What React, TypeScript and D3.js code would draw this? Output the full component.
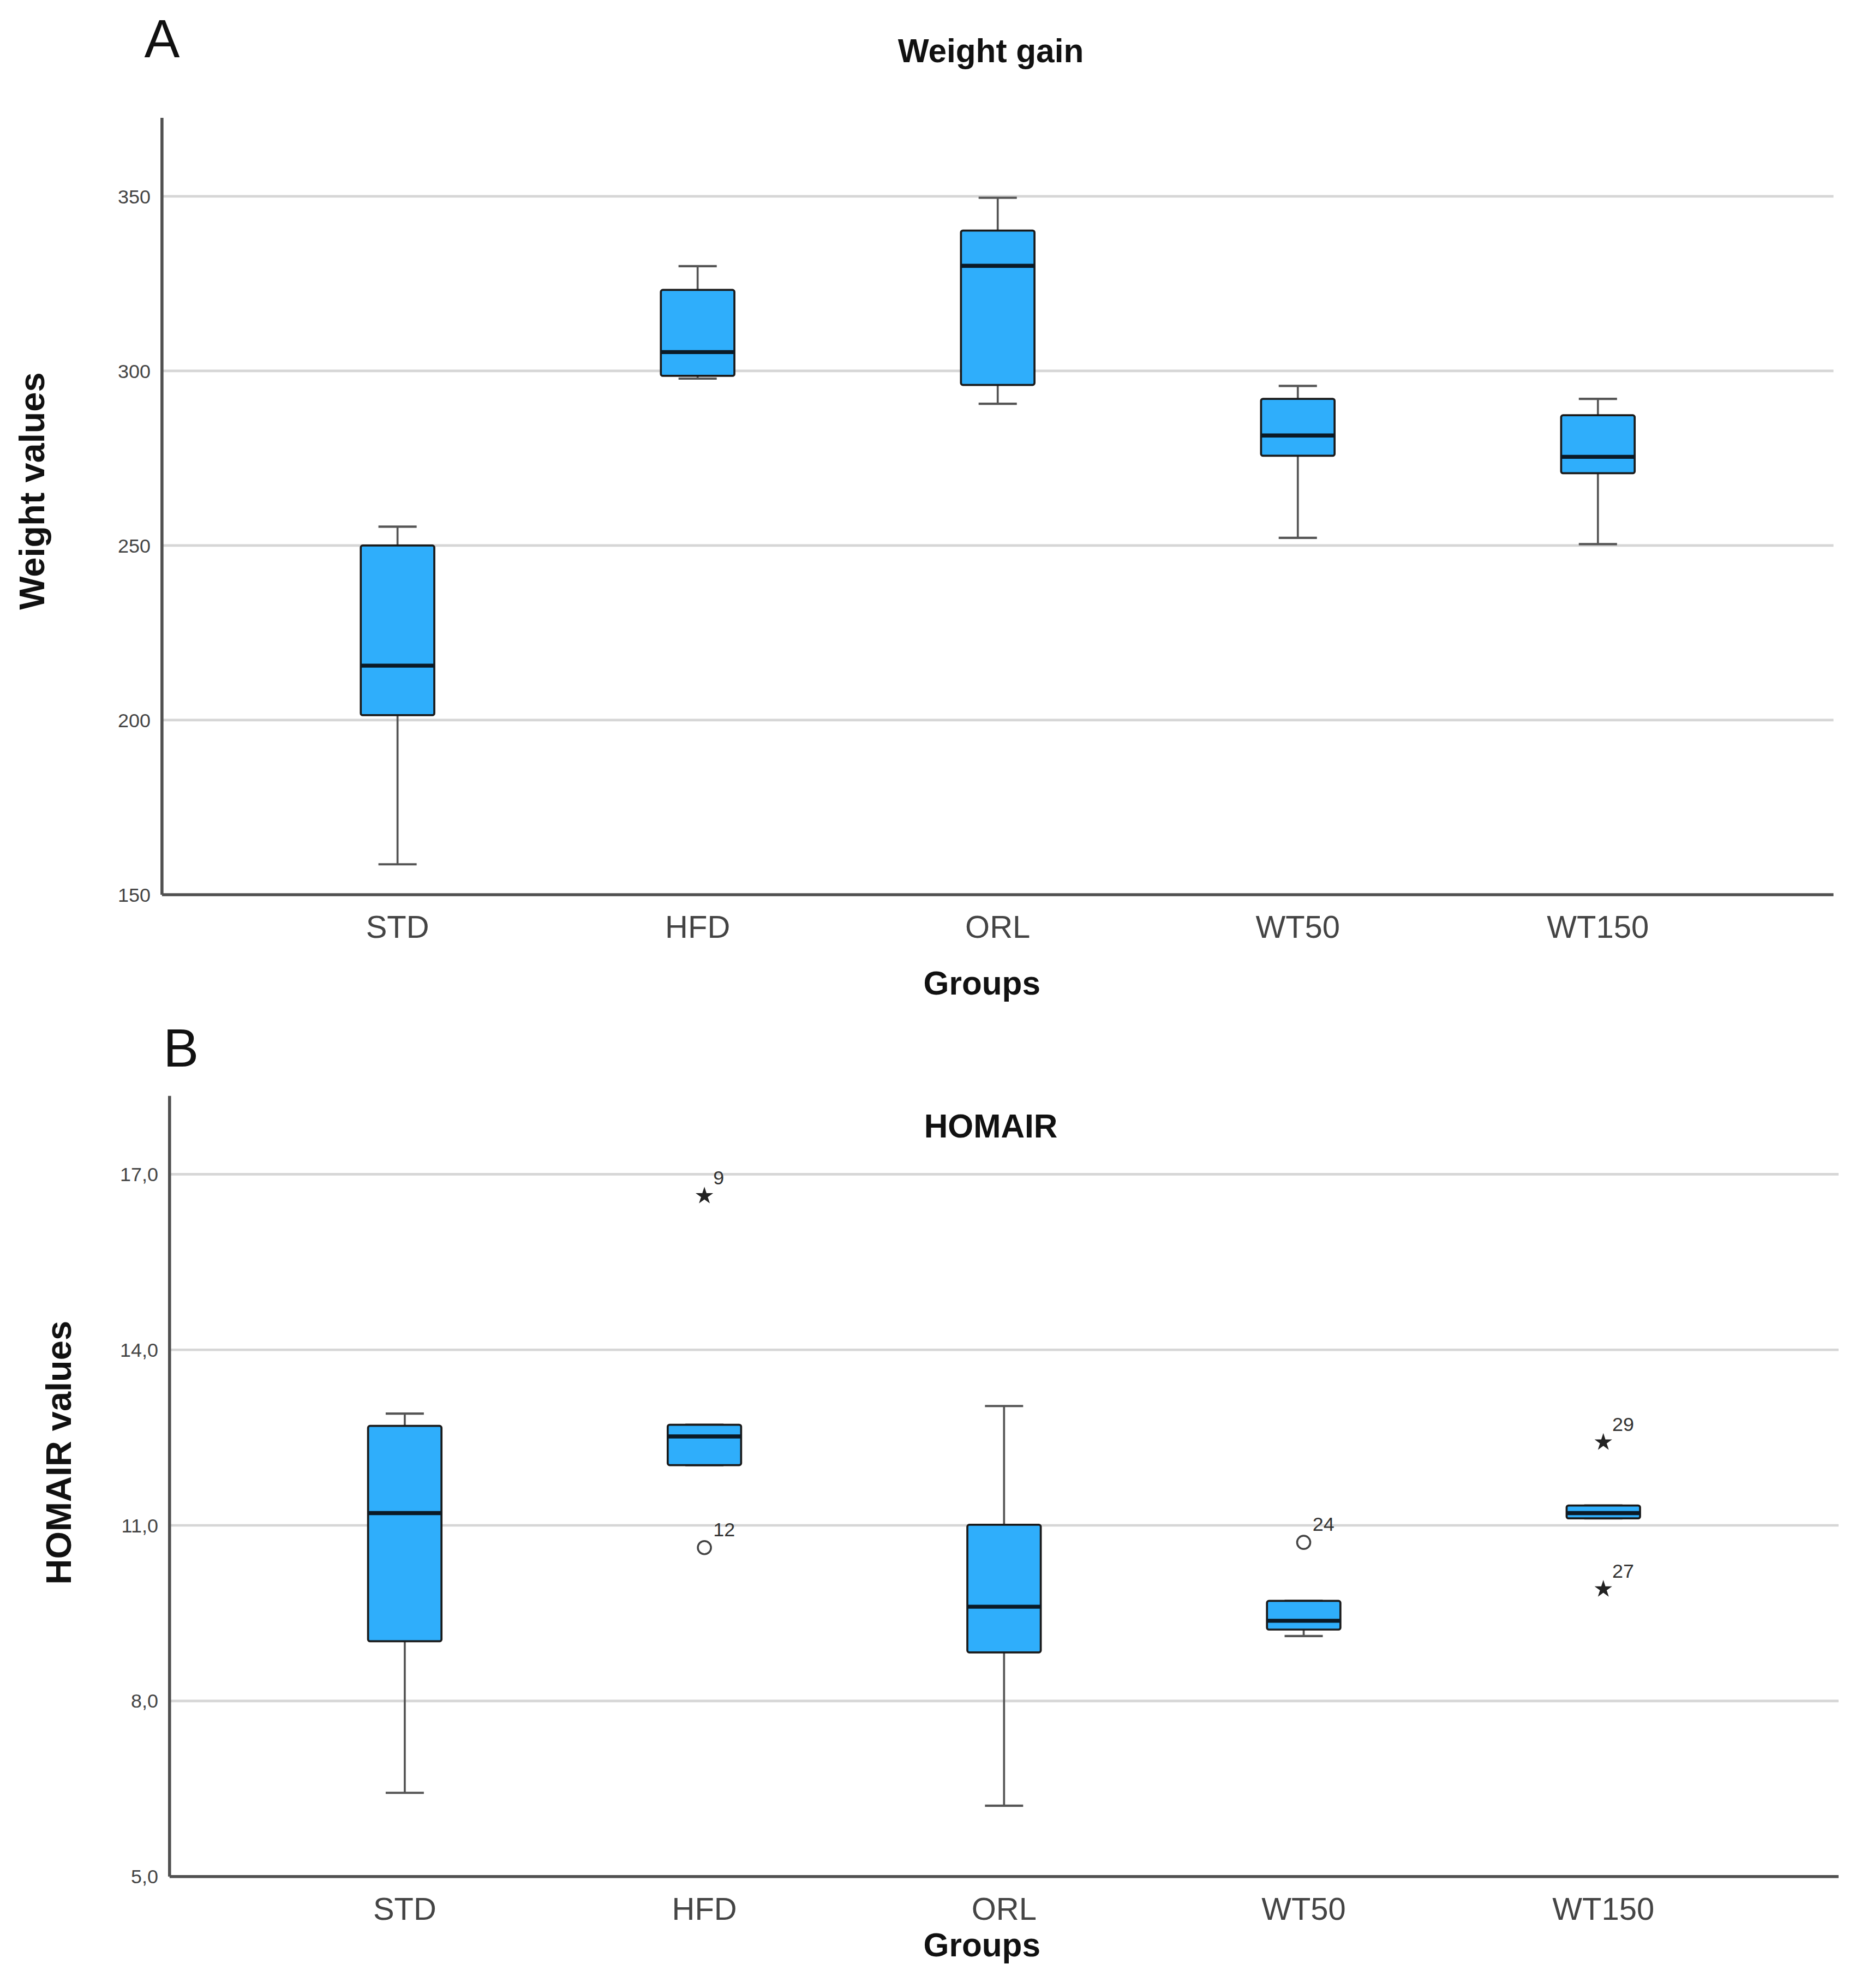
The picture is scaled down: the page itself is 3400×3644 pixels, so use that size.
import React from 'react';
import * as d3 from 'd3';

const groups = ['STD', 'HFD', 'ORL', 'WT50', 'WT150'];

// Panel A: weight gain (box stats per group)
const weightLow = [158.7, 297.8, 290.6, 252.2, 250.4];
const weightQ1 = [201.4, 298.6, 296.0, 275.7, 270.7];
const weightMed = [215.6, 305.4, 330.1, 281.5, 275.4];
const weightQ3 = [250.0, 323.2, 340.2, 292.0, 287.3];
const weightHigh = [255.4, 330.0, 349.6, 295.7, 292.0];
const weightTicks = [150, 200, 250, 300, 350];

// Panel B: HOMA-IR
const homaLow = [6.43, 12.03, 6.21, 9.11, 11.12];
const homaQ1 = [9.02, 12.03, 8.83, 9.22, 11.12];
const homaMed = [11.21, 12.52, 9.61, 9.37, 11.21];
const homaQ3 = [12.7, 12.72, 11.01, 9.71, 11.34];
const homaHigh = [12.91, 12.72, 13.04, 9.71, 11.34];
const homaTicks = [5, 8, 11, 14, 17];

// outliers: group, value, case label, kind ('o' = outlier, '*' = extreme)
const homaOutliers = [
  { group: 'HFD', value: 16.63, label: '9', kind: '*' },
  { group: 'HFD', value: 10.62, label: '12', kind: 'o' },
  { group: 'WT50', value: 10.71, label: '24', kind: 'o' },
  { group: 'WT150', value: 12.42, label: '29', kind: '*' },
  { group: 'WT150', value: 9.91, label: '27', kind: '*' },
];

const FONT = '"Liberation Sans", Arial, sans-serif';
const BOX_FILL = '#2faefb';

interface PanelProps {
  letter: string;
  letterX: number;
  letterY: number;
  title: string;
  titleY: number;
  yLabel: string;
  yLabelX: number;
  yLabelY: number;
  left: number;
  right: number;
  top: number;
  bottom: number;
  yMax: number;
  ticks: number[];
  tickFmt: (v: number) => string;
  low: number[];
  q1: number[];
  med: number[];
  q3: number[];
  high: number[];
  outliers?: { group: string; value: number; label: string; kind: string }[];
  groupsLabelY: number;
}

const Panel: React.FC<PanelProps> = (p) => {
  const x = d3.scalePoint<string>().domain(groups).range([p.left, p.right]).padding(0.785);
  const y = d3.scaleLinear().domain([p.ticks[0], p.yMax]).range([p.bottom, p.top]);
  const step = x.step();
  const bw = step * 0.245;
  const cw = bw * 0.52;
  const star = d3.symbol().type(d3.symbolStar).size(60)();

  return (
    <g>
      <text x={p.letterX} y={p.letterY} fontSize={42} fontFamily={FONT} textAnchor="middle" fill="#111">{p.letter}</text>
      <text x={783} y={p.titleY} fontSize={26} fontWeight="bold" fontFamily={FONT} textAnchor="middle" fill="#111">{p.title}</text>

      {/* grid */}
      {p.ticks.slice(1).map((t) => (
        <line key={t} x1={p.left} x2={p.right} y1={y(t)} y2={y(t)} stroke="#d6d6d6" strokeWidth={2} />
      ))}

      {/* tick labels */}
      {p.ticks.map((t) => (
        <text key={t} x={p.left - 9} y={y(t)} dy="0.35em" fontSize={15.5} fontFamily={FONT} textAnchor="end" fill="#444">{p.tickFmt(t)}</text>
      ))}

      {/* boxes */}
      {groups.map((g, i) => {
        const cx = x(g)!;
        return (
          <g key={g}>
            <line x1={cx} x2={cx} y1={y(p.high[i])} y2={y(p.q3[i])} stroke="#555" strokeWidth={1.6} />
            <line x1={cx} x2={cx} y1={y(p.q1[i])} y2={y(p.low[i])} stroke="#555" strokeWidth={1.6} />
            <line x1={cx - cw / 2} x2={cx + cw / 2} y1={y(p.high[i])} y2={y(p.high[i])} stroke="#555" strokeWidth={1.8} />
            <line x1={cx - cw / 2} x2={cx + cw / 2} y1={y(p.low[i])} y2={y(p.low[i])} stroke="#555" strokeWidth={1.8} />
            <rect x={cx - bw / 2} y={y(p.q3[i])} width={bw} height={y(p.q1[i]) - y(p.q3[i])} fill={BOX_FILL} stroke="#1a1a1a" strokeWidth={1.6} rx={1.5} />
            <line x1={cx - bw / 2} x2={cx + bw / 2} y1={y(p.med[i])} y2={y(p.med[i])} stroke="#0b1a26" strokeWidth={3.2} />
          </g>
        );
      })}

      {/* outliers */}
      {(p.outliers || []).map((o) => {
        const cx = x(o.group)!;
        const cy = y(o.value);
        return (
          <g key={o.label}>
            {o.kind === '*' ? (
              <path d={star!} transform={`translate(${cx},${cy})`} fill="#222" />
            ) : (
              <circle cx={cx} cy={cy} r={5.2} fill="none" stroke="#444" strokeWidth={1.5} />
            )}
            <text x={cx + 7} y={cy - 9} fontSize={15.5} fontFamily={FONT} fill="#333">{o.label}</text>
          </g>
        );
      })}

      {/* axes */}
      <line x1={p.left} x2={p.left} y1={p.top} y2={p.bottom} stroke="#505050" strokeWidth={2.4} />
      <line x1={p.left} x2={p.right} y1={p.bottom} y2={p.bottom} stroke="#505050" strokeWidth={2.4} />

      {groups.map((g) => (
        <text key={g} x={x(g)} y={p.bottom + 34} fontSize={25} fontFamily={FONT} textAnchor="middle" fill="#444">{g}</text>
      ))}
      <text x={776} y={p.groupsLabelY} fontSize={26} fontWeight="bold" fontFamily={FONT} textAnchor="middle" fill="#111">Groups</text>

      <text transform={`translate(${p.yLabelX},${p.yLabelY}) rotate(-90)`} fontSize={28} fontWeight="bold" fontFamily={FONT} textAnchor="middle" fill="#111">{p.yLabel}</text>
    </g>
  );
};

const App: React.FC = () => {
  const fmtComma = (v: number) => d3.format('.1f')(v).replace('.', ',');
  return (
    <svg
      width={3400}
      height={3644}
      viewBox="0 0 1466 1571"
      style={{ position: 'absolute', left: 0, top: 0, background: '#fff' }}
    >
      <rect x={0} y={0} width={1466} height={1571} fill="#fff" />
      <Panel
        letter="A" letterX={128} letterY={45}
        title="Weight gain" titleY={49}
        yLabel="Weight values" yLabelX={35} yLabelY={388}
        left={128} right={1449} top={93} bottom={707}
        yMax={372.5} ticks={weightTicks} tickFmt={(v) => String(v)}
        low={weightLow} q1={weightQ1} med={weightMed} q3={weightQ3} high={weightHigh}
        groupsLabelY={786}
      />
      <Panel
        letter="B" letterX={143} letterY={843}
        title="HOMAIR" titleY={899}
        yLabel="HOMAIR values" yLabelX={56} yLabelY={1148}
        left={134} right={1453} top={866} bottom={1483}
        yMax={18.34} ticks={homaTicks} tickFmt={fmtComma}
        low={homaLow} q1={homaQ1} med={homaMed} q3={homaQ3} high={homaHigh}
        outliers={homaOutliers}
        groupsLabelY={1546}
      />
    </svg>
  );
};

export default App;
